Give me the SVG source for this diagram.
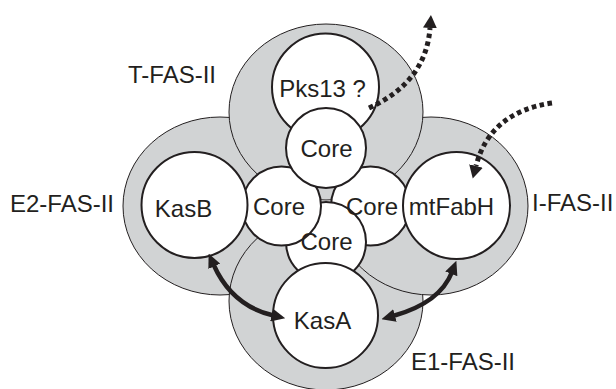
<svg xmlns="http://www.w3.org/2000/svg" width="616" height="389" viewBox="0 0 616 389">
<style>
.g{fill:#d1d3d4;stroke:#231f20;stroke-width:1}
.w{fill:#fff;stroke:#231f20;stroke-width:2}
text{font-family:"Liberation Sans",Arial,sans-serif;font-size:24px;fill:#231f20}
.c{text-anchor:middle}
.solid{fill:none;stroke:#231f20;stroke-width:4.5}
.dot{fill:none;stroke:#231f20;stroke-width:5;stroke-dasharray:4.5 3.5}
</style>
<defs>
<marker id="ah" markerUnits="userSpaceOnUse" viewBox="0 0 14 13" refX="2" refY="6.5" markerWidth="14" markerHeight="13" orient="auto-start-reverse">
<path d="M0,0 L14,6.5 L0,13 z" fill="#231f20"/>
</marker>
<marker id="dh" markerUnits="userSpaceOnUse" viewBox="0 0 13 14" refX="0" refY="7" markerWidth="13" markerHeight="14" orient="auto">
<path d="M0,0 L13,7 L0,14 z" fill="#231f20"/>
</marker>
</defs>
<rect width="616" height="389" fill="#fff"/>
<g id="E2-FAS-II"><ellipse class="g" cx="220" cy="206" rx="97" ry="89"/></g>
<g id="E1-FAS-II"><ellipse class="g" cx="326" cy="301" rx="97" ry="89"/></g>
<g id="I-FAS-II"><ellipse class="g" cx="431" cy="206" rx="97" ry="89"/></g>
<g id="T-FAS-II"><ellipse class="g" cx="326" cy="112" rx="97" ry="88"/></g>
<g id="Pks13"><circle class="w" cx="325.5" cy="87" r="53.5"/></g>
<g id="CoreRight"><circle class="w" cx="370.5" cy="206" r="39.5"/></g>
<g id="CoreBottom"><circle class="w" cx="326" cy="242" r="40"/></g>
<g id="CoreLeft"><circle class="w" cx="281.5" cy="206" r="39.5"/></g>
<g id="CoreTop"><circle class="w" cx="326" cy="148" r="40"/></g>
<g id="KasB"><circle class="w" cx="194.5" cy="205" r="53"/></g>
<g id="mtFabH"><circle class="w" cx="456.5" cy="205.5" r="53.5"/></g>
<g id="KasA"><circle class="w" cx="325.5" cy="315.5" r="52.5"/></g>
<g id="labels">
<text x="128" y="83">T-FAS-II</text>
<text x="10" y="212">E2-FAS-II</text>
<text x="532" y="211">I-FAS-II</text>
<text x="411" y="370">E1-FAS-II</text>
<text class="c" x="322.5" y="97">Pks13 ?</text>
<text class="c" x="326.5" y="157">Core</text>
<text class="c" x="279" y="215">Core</text>
<text class="c" x="372" y="215">Core</text>
<text class="c" x="326.5" y="250">Core</text>
<text class="c" x="183.5" y="217">KasB</text>
<text class="c" x="451.5" y="215">mtFabH</text>
<text class="c" x="322.5" y="329">KasA</text>
</g>
<g id="connectors">
<path class="solid" d="M213.5 264.5 Q232 306 273.5 315.5" marker-start="url(#ah)" marker-end="url(#ah)"/>
<path class="solid" d="M393 316 Q440 303 452 272" marker-start="url(#ah)" marker-end="url(#ah)"/>
<path class="dot" d="M369 108 Q426 82 430 28" marker-end="url(#dh)"/>
<path class="dot" d="M552 103 Q490 112 476 166" marker-end="url(#dh)"/>
</g>
</svg>
